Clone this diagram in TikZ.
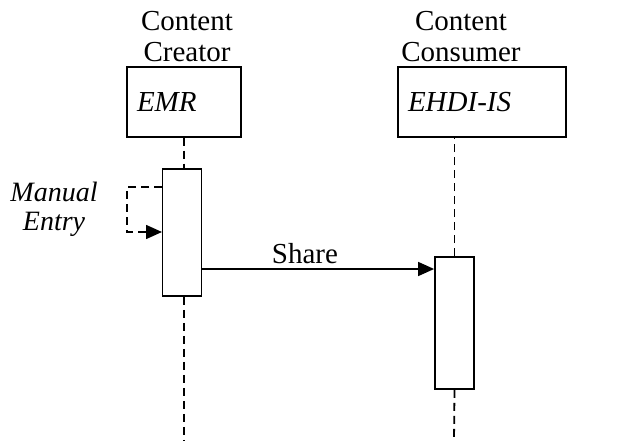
\documentclass[tikz,border=0pt]{standalone}
\usepackage{fontspec}
\setmainfont{Liberation Serif}
\usepackage{tikz}
\usetikzlibrary{arrows.meta, positioning, calc}

\begin{document}
\begin{tikzpicture}[x=1pt,y=-1pt,
  font=\fontsize{29}{31}\selectfont,
  actor/.style={draw,line width=1.2pt,minimum width=114pt,minimum height=70pt,inner xsep=10pt,font=\fontsize{29}{31}\selectfont\itshape},
  act/.style={draw,line width=1.8pt,fill=white,minimum width=39pt},
  life/.style={line width=1.8pt,dash pattern=on 8pt off 5pt},
  msg/.style={line width=1.6pt,-{Triangle[length=16pt,width=14pt]}},
  msgdash/.style={msg,dash pattern=on 8pt off 5pt}]
\useasboundingbox (0,0) rectangle (621,441);
% Roles
\node[align=center,anchor=base] (crRole) at (187,62) {Content\\Creator};
\node[align=center,anchor=base] (coRole) at (461,62) {Content\\Consumer};
% Systems
\node[actor,text width=94pt,align=left] (emr) at (184,102) {EMR};
\node[actor,minimum width=168pt,text width=148pt,align=left] (ehdi) at (482,102) {EHDI-IS};
% Activations
\node[act,minimum height=127pt] (crAct) at (182,232.5) {};
\node[act,minimum height=132pt] (coAct) at (454.5,323) {};
\coordinate (crEnd) at (184,441);
\coordinate (coEnd) at (454,441);
% Lifelines
\draw[life] (emr.south) -- (crAct.north -| emr.south);
\draw[life] (crAct.south -| emr.south) -- (crEnd);
\draw[life] (coAct.north) -- (coAct.north |- ehdi.south);
\draw[life] (coAct.south) -- (coEnd);
% Manual entry
\coordinate (selfOut) at (162,187);
\coordinate (selfIn) at (162,232);
\draw[msgdash] (selfOut) -- ++(-35,0) |- (selfIn);
\node[align=center,anchor=base,font=\fontsize{28}{29}\selectfont\itshape] (manual) at (54,230) {Manual\\Entry};
% Share
\coordinate (shareFrom) at (crAct.east |- 0,269);
\coordinate (shareTo) at (coAct.west |- 0,269);
\draw[msg] (shareFrom) -- (shareTo);
\node[anchor=base] (share) at (305,263) {Share};
\end{tikzpicture}
\end{document}
